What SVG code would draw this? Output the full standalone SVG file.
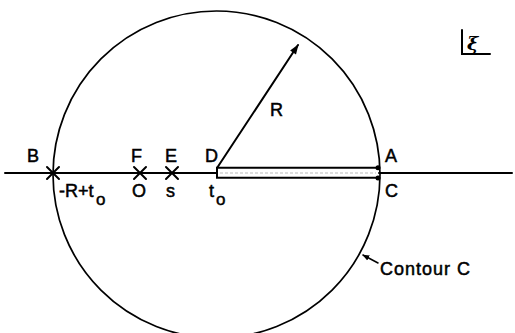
<svg xmlns="http://www.w3.org/2000/svg" width="515" height="333" viewBox="0 0 515 333">
<style>
.ln{stroke:#000;stroke-width:2;fill:none;stroke-linecap:round}
.t{font-family:"Liberation Sans",Arial,sans-serif;font-size:18px;fill:#000;stroke:#000;stroke-width:0.5}
.s{font-family:"Liberation Sans",Arial,sans-serif;font-size:17px;fill:#000;stroke:#000;stroke-width:0.5}
</style>
<defs>
<marker id="ah" viewBox="0 0 10 10" refX="9" refY="5" markerWidth="7" markerHeight="7" orient="auto" markerUnits="userSpaceOnUse">
<path d="M0,1 L10,5 L0,9 Z" fill="#000"/>
</marker>
<marker id="ah2" viewBox="0 0 10 10" refX="9" refY="5" markerWidth="14" markerHeight="10" orient="auto" markerUnits="userSpaceOnUse">
<path d="M0,1.5 L10,5 L0,8.5 Z" fill="#000"/>
</marker>
</defs>
<rect width="515" height="333" fill="#fff"/>
<g id="connectors">
<circle cx="216.5" cy="174.5" r="163.5" class="ln" style="stroke-width:1.7"/>
<line x1="5" y1="173" x2="217" y2="173" class="ln"/>
<line x1="379" y1="173" x2="512" y2="173" class="ln"/>
<line x1="220" y1="173" x2="376" y2="173" stroke="#bbb" stroke-width="1" stroke-dasharray="3 2"/>
<path d="M378,167.7 H217 V177.7 H378" class="ln"/>
<line x1="217" y1="168" x2="298" y2="45" class="ln" marker-end="url(#ah2)"/>
<line x1="378" y1="263" x2="363" y2="255" class="ln" style="stroke-width:1.5" marker-end="url(#ah)"/>
</g>
<g id="B"><path d="M47,167 L59,179 M59,167 L47,179" class="ln"/><text x="27" y="162" class="t">B</text>
<text x="59" y="197" class="t">-R+t</text><text x="96" y="205" class="s">o</text></g>
<g id="F"><path d="M134,167 L146,179 M146,167 L134,179" class="ln"/><text x="131" y="162" class="t">F</text>
<text x="132" y="197" class="t">O</text></g>
<g id="E"><path d="M166,167 L178,179 M178,167 L166,179" class="ln"/><text x="165" y="162" class="t">E</text>
<text x="166" y="197" class="t">s</text></g>
<g id="D"><text x="205" y="162" class="t">D</text>
<text x="209" y="197" class="t">t</text><text x="216" y="205" class="s">o</text></g>
<g id="A"><circle cx="378" cy="167.7" r="2.5" fill="#000"/><text x="385" y="162" class="t">A</text></g>
<g id="C"><circle cx="378" cy="178" r="2.5" fill="#000"/><text x="385" y="197" class="t">C</text></g>
<g id="R"><text x="270" y="116" class="t">R</text></g>
<g id="xi"><path d="M462,30 V54 H490" class="ln"/><text x="467" y="50" style="font-family:'DejaVu Serif',serif;font-style:italic;font-size:19px;font-weight:bold">ξ</text></g>
<g id="contour"><text x="380" y="275" class="t" style="letter-spacing:1px">Contour C</text></g>
</svg>
